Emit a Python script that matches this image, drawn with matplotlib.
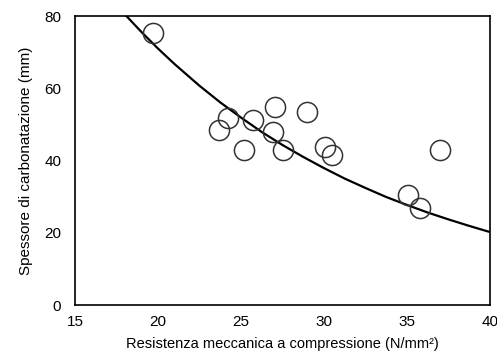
import matplotlib
matplotlib.use('Agg')
import matplotlib.pyplot as plt

# Data points (compressive strength, carbonation depth)
strength = [19.7, 23.7, 24.2, 25.7, 27.05, 29.0, 26.9, 25.2, 27.5, 30.05, 30.5, 37.0, 35.05, 35.8]
depth = [75.3, 48.4, 51.8, 51.2, 54.8, 53.4, 47.9, 42.9, 42.9, 43.7, 41.5, 42.9, 30.4, 26.8]

# Fitted curve, points
curve_x = [18.1, 19, 20, 21, 22.5, 23.75, 25, 26.25, 27.5, 28.75, 30,
           31.25, 32.5, 33.75, 35, 36.25, 37.5, 38.75, 40]
curve_y = [80, 75.6, 71.0, 66.7, 60.7, 56.1, 51.9, 47.9, 44.3, 41.0, 37.9,
           35.0, 32.4, 29.9, 27.7, 25.6, 23.7, 21.9, 20.2]

x_ticks = [15, 20, 25, 30, 35, 40]
y_ticks = [0, 20, 40, 60, 80]

plt.rcParams['font.family'] = ['Liberation Sans', 'DejaVu Sans']

fig = plt.figure(figsize=(4.97, 3.58), dpi=100)
ax = fig.add_axes([0.151, 0.148, 0.835, 0.807])

ax.plot(curve_x, curve_y, color='black', linewidth=1.6, zorder=2)
ax.plot(strength, depth, linestyle='none', marker='o', markersize=14.5,
        markerfacecolor='none', markeredgecolor='#333333', markeredgewidth=1.1, zorder=3)

ax.set_xlim(15, 40)
ax.set_ylim(0, 80)
ax.set_xticks(x_ticks)
ax.set_yticks(y_ticks)
ax.tick_params(length=0, labelsize=11)
ax.tick_params(axis='x', pad=7)
ax.tick_params(axis='y', pad=10)
for s in ax.spines.values():
    s.set_linewidth(1.2)

ax.set_xlabel('Resistenza meccanica a compressione (N/mm²)', fontsize=10.5, labelpad=6)
ax.set_ylabel('Spessore di carbonatazione (mm)', fontsize=11, labelpad=8)

fig.savefig('out.png', dpi=100)
